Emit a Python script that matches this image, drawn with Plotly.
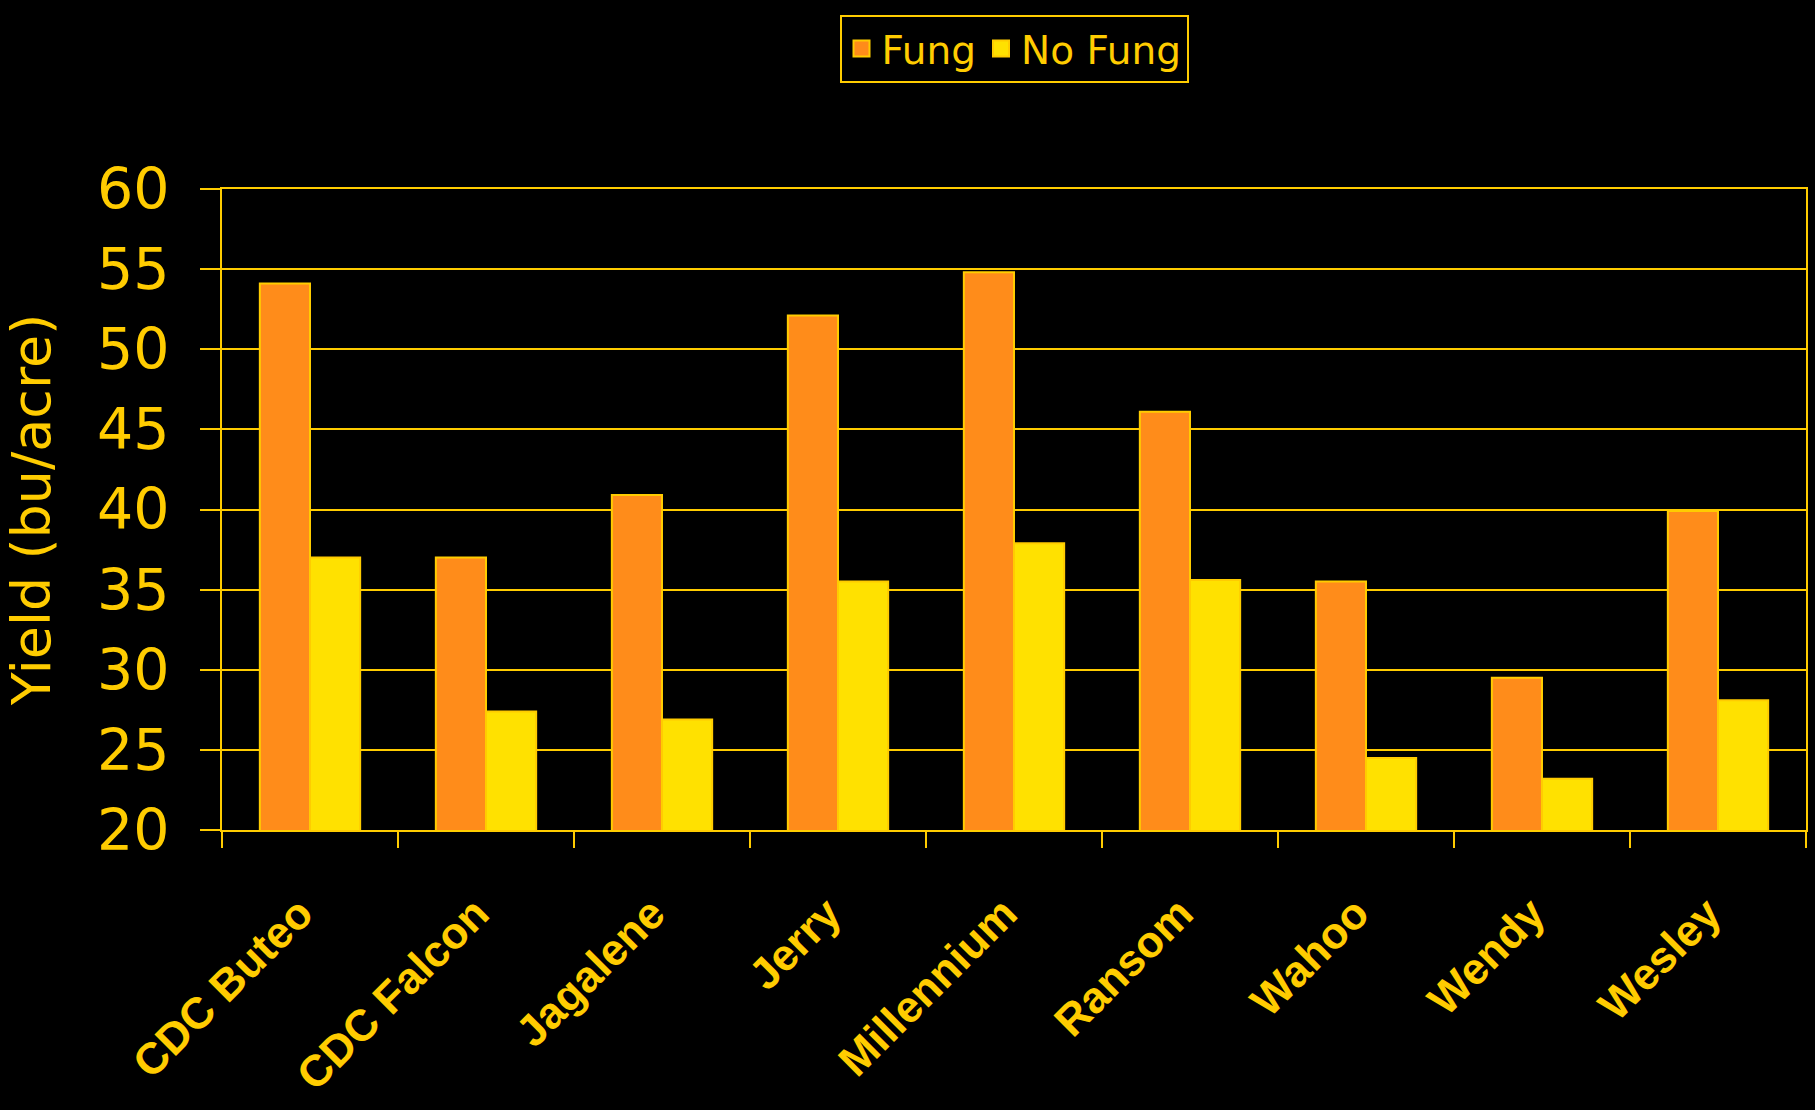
import plotly.graph_objects as go

categories = ["CDC Buteo", "CDC Falcon", "Jagalene", "Jerry", "Millennium",
              "Ransom", "Wahoo", "Wendy", "Wesley"]
fung = [54.1, 37.0, 40.9, 52.1, 54.8, 46.1, 35.5, 29.5, 39.9]
no_fung = [37.0, 27.4, 26.9, 35.5, 37.9, 35.6, 24.5, 23.2, 28.1]
y_ticks = [20, 25, 30, 35, 40, 45, 50, 55, 60]
series_names = ["Fung", "No Fung"]

GOLD = "#FFCC00"
ORANGE = "#FF8C1A"
YELLOW = "#FFE100"

fig = go.Figure()
for name, vals, col in zip(series_names, [fung, no_fung], [ORANGE, YELLOW]):
    fig.add_trace(go.Bar(name=name, x=categories, y=vals, showlegend=False,
                         marker=dict(color=col, line=dict(color=GOLD, width=2))))
# legend proxies (larger square swatches)
for name, col in zip(series_names, [ORANGE, YELLOW]):
    fig.add_trace(go.Scatter(name=name, x=[None], y=[None], mode="markers",
                             marker=dict(symbol="square", size=16, color=col,
                                         line=dict(color=GOLD, width=2))))

fig.update_layout(
    width=1815, height=1110,
    paper_bgcolor="black", plot_bgcolor="black",
    barmode="group", bargap=0.43, bargroupgap=0,
    margin=dict(l=222, r=9, t=189, b=280, autoexpand=False),
    showlegend=True,
    legend=dict(orientation="h", x=0.5, xanchor="center", y=1.166, yanchor="bottom",
                font=dict(family="DejaVu Sans", size=39, color=GOLD),
                bordercolor=GOLD, borderwidth=2, bgcolor="black",
                itemsizing="trace", traceorder="normal", itemwidth=30),
    xaxis=dict(type="category", tickson="boundaries", ticks="outside", ticklen=16,
               tickwidth=2, tickcolor=GOLD, showline=True, linecolor=GOLD, linewidth=2,
               mirror=True, showgrid=False, tickangle=-45, ticklabelstandoff=38,
               ticklabelshift=-10, automargin=False,
               tickfont=dict(family="Liberation Sans", size=44, color=GOLD,
                             weight="bold")),
    yaxis=dict(range=[20, 60], tickvals=y_ticks, ticks="outside", ticklen=20,
               tickwidth=2, tickcolor=GOLD, showline=True, linecolor=GOLD, linewidth=2,
               mirror=True, showgrid=True, gridcolor=GOLD, gridwidth=2,
               zeroline=False, ticklabelstandoff=19, automargin=False,
               tickfont=dict(family="DejaVu Sans", size=57, color=GOLD),
               title=dict(text="Yield (bu/acre)", standoff=30,
                          font=dict(family="DejaVu Sans", size=54, color=GOLD))),
)

fig.write_html("out.html", config={"displayModeBar": False},
               post_script="document.body.style.margin='0px';"
                           "document.body.style.backgroundColor='black';")
